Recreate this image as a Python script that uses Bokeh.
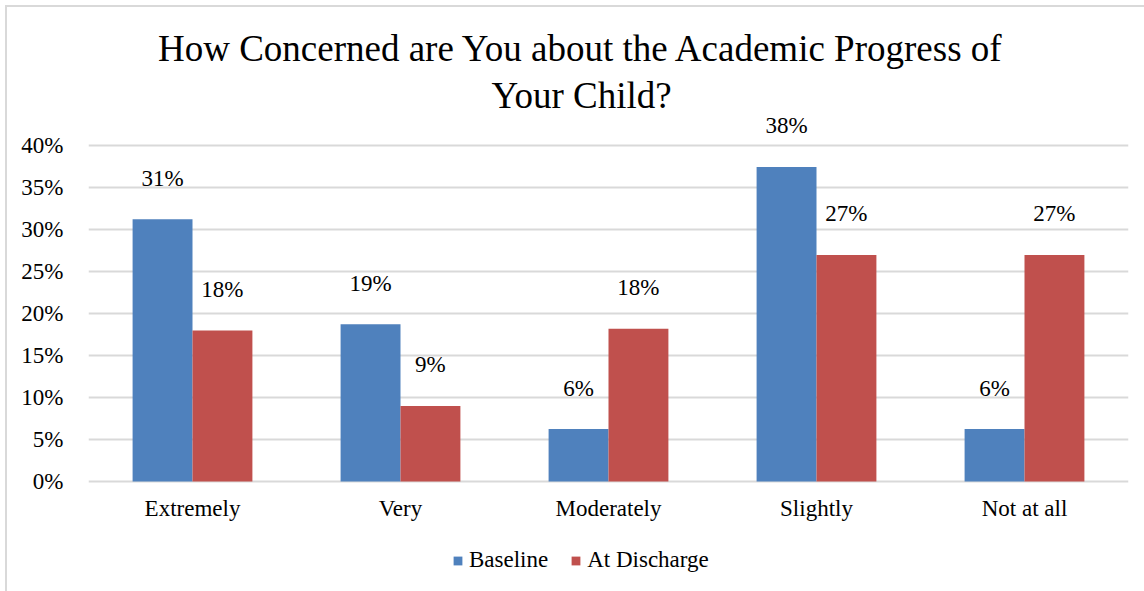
from bokeh.plotting import figure
from bokeh.layouts import column
from bokeh.models import (FactorRange, Range1d, FixedTicker, NumeralTickFormatter,
                          Legend, LegendItem, Label, ColumnDataSource)
from bokeh.transform import dodge
from bokeh.embed import file_html
from bokeh.resources import INLINE

# Survey responses (share of respondents)
categories = ["Extremely", "Very", "Moderately", "Slightly", "Not at all"]
baseline = [0.3125, 0.1875, 0.0625, 0.375, 0.0625]
at_discharge = [0.18, 0.09, 0.182, 0.27, 0.27]
y_ticks = [0, 0.05, 0.10, 0.15, 0.20, 0.25, 0.30, 0.35, 0.40]
series_names = ["Baseline", "At Discharge"]

title_lines = ["How Concerned are You about the Academic Progress of", "Your Child?"]

BLUE = "#4F81BD"
RED = "#C0504D"
GRID = "#D9D9D9"
SERIF = "Liberation Serif"

src = ColumnDataSource(dict(cat=categories, base=baseline, disc=at_discharge))

p = figure(
    width=1137, height=535,
    x_range=FactorRange(*categories, range_padding=0),
    y_range=Range1d(-0.00238, 0.5614),
    output_backend="svg", toolbar_location=None,
    min_border_left=81, min_border_right=16,
    min_border_top=3, min_border_bottom=59,
    outline_line_color=None,
)

bw = 0.288
p.vbar(x=dodge("cat", -bw / 2, range=p.x_range), top="base", width=bw,
       source=src, fill_color=BLUE, line_color=None)
p.vbar(x=dodge("cat", bw / 2, range=p.x_range), top="disc", width=bw,
       source=src, fill_color=RED, line_color=None)

# value labels floating above each bar; a factor's centre sits at i + 0.5
# in the categorical range's synthetic coordinates
for vals, off in ((baseline, -bw / 2), (at_discharge, bw / 2)):
    for i, v in enumerate(vals):
        p.add_layout(Label(x=i + 0.5 + off, y=v, y_offset=41, text=f"{v * 100:.0f}%",
                           text_align="center", text_baseline="middle",
                           text_font=SERIF, text_font_size="23px", text_color="#000000"))

# axes
p.yaxis.ticker = FixedTicker(ticks=y_ticks)
p.yaxis.formatter = NumeralTickFormatter(format="0%")
for ax in (p.xaxis[0], p.yaxis[0]):
    ax.axis_line_color = None
    ax.major_tick_line_color = None
    ax.minor_tick_line_color = None
    ax.major_label_text_font = SERIF
    ax.major_label_text_font_size = "23px"
    ax.major_label_text_color = "#000000"
p.yaxis.major_label_standoff = 19
p.xaxis.major_label_standoff = 6

p.xgrid.grid_line_color = None
p.ygrid.grid_line_color = GRID
p.ygrid.grid_line_width = 2

# title
for txt, ty in zip(title_lines, (435, 388)):
    p.add_layout(Label(x=493, y=ty, x_units="screen", y_units="screen", text=txt,
                       text_align="center", text_baseline="middle",
                       text_font=SERIF, text_font_size="37px", text_color="#000000"))

# legend strip underneath the chart; its y window sits above the bars,
# so only the legend swatches show
lf = figure(
    width=1137, height=49,
    x_range=FactorRange(*categories, range_padding=0), y_range=Range1d(1, 2),
    x_axis_type=None, y_axis_type=None,
    output_backend="svg", toolbar_location=None,
    min_border=0, outline_line_color=None,
)
lf.xgrid.grid_line_color = None
lf.ygrid.grid_line_color = None
swatches = [
    lf.vbar(x="cat", top="base", width=bw, source=src, fill_color=BLUE, line_color=None),
    lf.vbar(x="cat", top="disc", width=bw, source=src, fill_color=RED, line_color=None),
]
legend = Legend(
    items=[LegendItem(label=n, renderers=[r]) for n, r in zip(series_names, swatches)],
    orientation="horizontal", location=(364, 18),
    glyph_width=11, glyph_height=11, label_standoff=6, spacing=22,
    padding=0, margin=0, border_line_color=None, background_fill_alpha=0,
    label_text_font=SERIF, label_text_font_size="23px", label_text_color="#000000",
    label_height=23,
)
lf.add_layout(legend)

layout = column(p, lf, spacing=0)
layout.margin = (5, 0, 0, 5)
layout.styles = {"border-left": "2px solid #D9D9D9", "border-top": "2px solid #D9D9D9"}

open("out.html", "w").write(file_html(layout, INLINE))
